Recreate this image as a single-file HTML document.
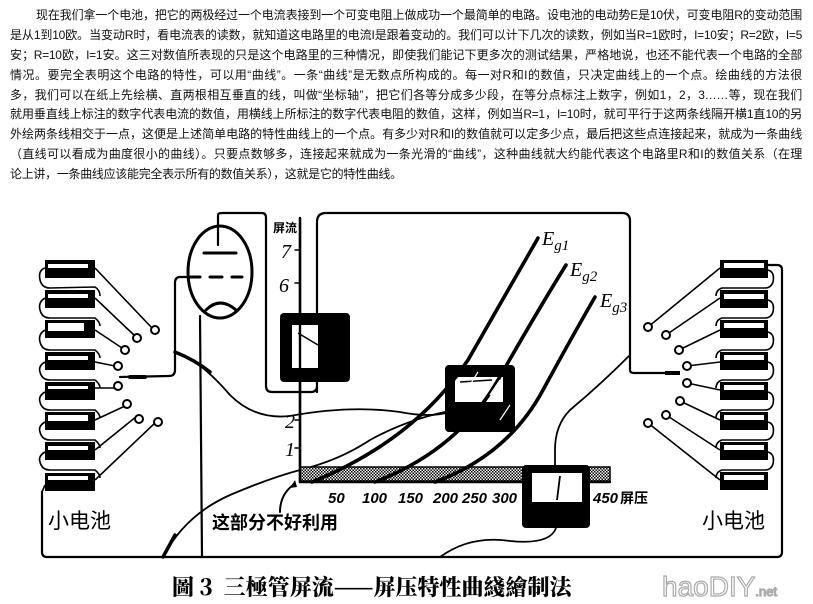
<!DOCTYPE html>
<html><head><meta charset="utf-8"><style>
html,body{margin:0;padding:0;background:#fff;}
body{width:813px;height:604px;position:relative;overflow:hidden;font-family:"Liberation Sans","Noto Sans CJK SC",sans-serif;}
.p{position:absolute;left:10px;top:6px;width:792px;font-size:12px;letter-spacing:-0.3px;line-height:19.9px;color:#111;font-family:"Liberation Sans","WenQuanYi Zen Hei","Noto Sans CJK SC",sans-serif;}
.p div{text-align:justify;text-align-last:justify;white-space:nowrap;height:19.9px;overflow:visible;}
.p div.f{padding-left:26px;}
.p div.l{text-align-last:left;}
svg{position:absolute;left:0;top:0;}
</style></head><body>
<div class="p">
<div class="f">现在我们拿一个电池，把它的两极经过一个电流表接到一个可变电阻上做成功一个最简单的电路。设电池的电动势E是10伏，可变电阻R的变动范围</div>
<div>是从1到10欧。当变动R时，看电流表的读数，就知道这电路里的电流I是跟着变动的。我们可以计下几次的读数，例如当R=1欧时，I=10安；R=2欧，I=5</div>
<div>安；R=10欧，I=1安。这三对数值所表现的只是这个电路里的三种情况，即使我们能记下更多次的测试结果，严格地说，也还不能代表一个电路的全部</div>
<div>情况。要完全表明这个电路的特性，可以用“曲线”。一条“曲线”是无数点所构成的。每一对R和I的数值，只决定曲线上的一个点。绘曲线的方法很</div>
<div>多，我们可以在纸上先绘横、直两根相互垂直的线，叫做“坐标轴”，把它们各等分成多少段，在等分点标注上数字，例如1，2，3……等，现在我们</div>
<div>就用垂直线上标注的数字代表电流的数值，用横线上所标注的数字代表电阻的数值，这样，例如当R=1，I=10时，就可平行于这两条线隔开横1直10的另</div>
<div>外绘两条线相交于一点，这便是上述简单电路的特性曲线上的一个点。有多少对R和I的数值就可以定多少点，最后把这些点连接起来，就成为一条曲线</div>
<div>（直线可以看成为曲度很小的曲线）。只要点数够多，连接起来就成为一条光滑的“曲线”，这种曲线就大约能代表这个电路里R和I的数值关系（在理</div>
<div class="l">论上讲，一条曲线应该能完全表示所有的数值关系），这就是它的特性曲线。</div>
</div>

<svg width="813" height="604" viewBox="0 0 813 604">
<defs>
<pattern id="h" width="3" height="3" patternUnits="userSpaceOnUse"><rect width="3" height="3" fill="#fff"/><rect width="1.5" height="1.5" fill="#000"/><rect x="1.5" y="1.5" width="1.5" height="1.5" fill="#000"/></pattern>
</defs>
<g fill="none" stroke="#000" stroke-width="2.2" stroke-linecap="round">
<path d="M42 492 L42 552 Q42 557 47 557 L777 557 Q782 557 782 552 L782 270 Q782 265 777 265 L766 265"/>
<path d="M317 392 L317 222 Q317 213 326 213 L622 213 Q630 213 630 221 L630 370 Q630 373 634 373 L665 373"/>
<path d="M218 245 L218 215 Q218 213 222 213 L262 213 Q266 213 266 218 L266 386 Q266 392 272 392 L311 392 Q317 392 317 386"/>
<ellipse cx="220" cy="272" rx="32" ry="46" stroke-width="3"/>
<path d="M204 253 L236 253" stroke-width="3"/>
<path d="M190 277 L200 277 M210 277 L222 277 M232 277 L242 277" stroke-width="3"/>
<path d="M206 310 Q220 296 236 310" stroke-width="3"/>
<path d="M190 277 L180 277 Q175 277 175 283 L175 370 Q175 376 169 376 L120 377"/>
<path d="M130 377 L145 377" stroke-width="4"/>
<path d="M200 316 L202 557"/>
<path d="M175 352 Q200 360 230 395 Q255 420 290 416 Q350 405 400 412 Q430 418 450 412" stroke-width="1.8"/>
<path d="M175 352 Q195 360 210 372" stroke-width="3.5"/>
<path d="M300 218 L300 482 L610 482" stroke-width="2.4"/>
<path d="M295 250 L300 250 M295 283 L300 283 M295 420 L300 420 M295 448 L300 448" stroke-width="1.5"/>
<path d="M163 557 Q185 515 230 495 Q270 478 300 470 Q340 460 370 440 Q410 418 455 410" stroke-width="1.8"/>
<path d="M163 557 L175 535" stroke-width="3.5"/>
<path d="M280 512 Q280 495 293 485" stroke-width="2"/>
</g>
<path d="M295 480 L290 488 L297 487Z" fill="#000"/>
<rect x="300" y="467" width="310" height="14" fill="url(#h)" stroke="#000" stroke-width="1.5"/>
<rect x="280" y="313" width="70" height="69" rx="4" fill="#000"/>
<rect x="292" y="325" width="26" height="43" fill="#fff"/>
<path d="M300 218 L300 482" stroke="#000" stroke-width="2.4"/>
<path d="M298 333 L318 345" stroke="#000" stroke-width="1.5"/>
<rect x="445" y="365" width="70" height="67" rx="4" fill="#000"/>
<rect x="455" y="377" width="48" height="25" fill="#fff"/>
<path d="M460 382 L492 380" stroke="#000" stroke-width="1.5"/>
<g fill="none" stroke="#000" stroke-width="3.6" stroke-linecap="round">
<path d="M312 482 Q415 440 468 360 Q508 290 538 238"/>
<path d="M375 482 Q458 450 498 380 Q538 310 566 265"/>
<path d="M435 482 Q508 455 543 390 Q573 335 595 297"/>
</g>
<g fill="none" stroke="#fff" stroke-width="1.2">
<path d="M470 385 L478 372 M490 395 L500 380 M500 420 L510 405"/>
</g>
<rect x="522" y="465" width="68" height="63" rx="4" fill="#000"/>
<rect x="532" y="473" width="50" height="29" fill="#fff"/>
<path d="M560 476 L557 500" stroke="#000" stroke-width="1.8"/>
<g fill="none" stroke="#000" stroke-width="1.8" stroke-linecap="round">
<path d="M630 355 Q600 385 570 410 Q555 425 555 450 L555 465"/>
<path d="M556 528 Q550 545 510 541 Q470 535 440 557"/>
</g>
<g fill="#000"><rect x="45" y="260" width="50" height="18"/><rect x="45" y="290" width="50" height="18"/><rect x="45" y="320" width="50" height="18"/><rect x="45" y="352" width="50" height="18"/><rect x="45" y="382" width="50" height="18"/><rect x="45" y="412" width="50" height="18"/><rect x="45" y="442" width="50" height="18"/><rect x="45" y="473" width="50" height="18"/></g>
<g fill="#fff"><rect x="48" y="264" width="40" height="4"/><rect x="48" y="294" width="40" height="4"/><rect x="48" y="323" width="36" height="8"/><rect x="48" y="356" width="40" height="4"/><rect x="48" y="386" width="40" height="3"/><rect x="48" y="415" width="40" height="6"/><rect x="48" y="446" width="40" height="4"/><rect x="48" y="476" width="40" height="4"/></g>
<g fill="none" stroke="#000" stroke-width="1.6">
<path d="M45 268 Q38 270 40 280 Q42 288 50 288 L95 287 Q100 290 100 296"/>
<path d="M45 298 Q38 302 40 310 Q42 318 50 318 L95 318 Q100 322 100 326"/>
<path d="M45 330 Q38 334 40 342 Q42 350 50 350 L95 350 Q100 354 100 358"/>
<path d="M45 362 Q38 366 40 372 Q42 380 50 380 L95 380 Q100 384 100 388"/>
<path d="M45 392 Q38 396 40 402 Q42 410 50 410 L95 410 Q100 414 100 418"/>
<path d="M45 422 Q38 426 40 432 Q42 440 50 440 L95 440 Q100 444 100 448"/>
<path d="M45 452 Q38 456 40 462 Q42 470 50 470 L95 470 Q100 474 100 478"/>
<path d="M45 485 L42 492"/>
<path d="M95 268 L152 328 M95 298 L135 336 M95 330 L122 348 M95 362 L115 366 M95 388 L116 388 M95 420 L125 406 M95 450 L137 416 M95 480 L156 422"/>
</g>
<g fill="#fff" stroke="#000" stroke-width="2"><circle cx="155" cy="330" r="4"/><circle cx="137" cy="338" r="4"/><circle cx="125" cy="350" r="4"/><circle cx="118" cy="366" r="4"/><circle cx="118" cy="386" r="4"/><circle cx="127" cy="404" r="4"/><circle cx="139" cy="419" r="4"/><circle cx="158" cy="422" r="4"/></g>
<g fill="#000"><rect x="720" y="260" width="48" height="18"/><rect x="720" y="290" width="48" height="18"/><rect x="720" y="320" width="48" height="18"/><rect x="720" y="352" width="48" height="18"/><rect x="720" y="382" width="48" height="18"/><rect x="720" y="412" width="48" height="18"/><rect x="720" y="442" width="48" height="18"/><rect x="720" y="472" width="48" height="18"/></g>
<g fill="#fff"><rect x="724" y="263" width="40" height="5"/><rect x="724" y="294" width="40" height="5"/><rect x="724" y="323" width="40" height="5"/><rect x="724" y="355" width="40" height="5"/><rect x="724" y="385" width="40" height="5"/><rect x="724" y="415" width="40" height="5"/><rect x="724" y="445" width="40" height="5"/><rect x="724" y="475" width="40" height="5"/></g>
<g fill="none" stroke="#000" stroke-width="1.6">
<path d="M768 270 Q775 272 773 282 Q771 288 765 288 L722 288 Q716 290 716 296"/>
<path d="M768 300 Q775 302 773 312 Q771 318 765 318 L722 318 Q716 320 716 326"/>
<path d="M768 332 Q775 334 773 344 Q771 350 765 350 L722 350 Q716 352 716 358"/>
<path d="M768 362 Q775 364 773 374 Q771 380 765 380 L722 380 Q716 382 716 388"/>
<path d="M768 392 Q775 394 773 404 Q771 410 765 410 L722 410 Q716 412 716 418"/>
<path d="M768 422 Q775 424 773 434 Q771 440 765 440 L722 440 Q716 442 716 448"/>
<path d="M768 452 Q775 454 773 464 Q771 470 765 470 L722 470 Q716 472 716 478"/>
<path d="M720 268 L648 327 M720 298 L666 335 M720 330 L679 350 M720 362 L687 366 M720 390 L687 383 M720 420 L680 401 M720 450 L666 415 M720 480 L648 423"/>
</g>
<path d="M665 373 L680 373" stroke="#000" stroke-width="4"/>
<g fill="#fff" stroke="#000" stroke-width="2"><circle cx="648" cy="327" r="4"/><circle cx="666" cy="335" r="4"/><circle cx="679" cy="350" r="4"/><circle cx="687" cy="366" r="4"/><circle cx="687" cy="383" r="4"/><circle cx="680" cy="401" r="4"/><circle cx="666" cy="415" r="4"/><circle cx="648" cy="423" r="4"/></g>
<g font-family="Liberation Serif, serif" font-style="italic" font-size="20" fill="#000">
<text x="281" y="258">7</text><text x="279" y="292">6</text><text x="285" y="428">2</text><text x="285" y="456">1</text>
<text x="542" y="245">E<tspan font-size="15" dy="5">g1</tspan></text>
<text x="570" y="276">E<tspan font-size="15" dy="5">g2</tspan></text>
<text x="600" y="307">E<tspan font-size="15" dy="5">g3</tspan></text>
</g>
<g font-family="Liberation Sans, sans-serif" font-style="italic" font-weight="bold" font-size="15" fill="#000">
<text x="328" y="503">50</text><text x="362" y="503">100</text><text x="398" y="503">150</text><text x="433" y="503">200</text><text x="462" y="503">250</text><text x="492" y="503">300</text><text x="593" y="503">450</text>
</g>
<text x="620" y="503" font-family="Noto Sans CJK SC, sans-serif" font-weight="bold" font-size="14">屏压</text>
<text x="273" y="232" font-family="Noto Sans CJK SC, sans-serif" font-weight="bold" font-size="12">屏流</text>
<text x="48" y="528" font-family="Noto Sans CJK SC, sans-serif" font-size="21">小电池</text>
<text x="702" y="528" font-family="Noto Sans CJK SC, sans-serif" font-size="21">小电池</text>
<text x="212" y="529" font-family="Noto Sans CJK SC, sans-serif" font-weight="bold" font-size="18">这部分不好利用</text>
<text x="172" y="595" font-family="Noto Serif CJK SC, serif" font-weight="900" font-size="22">圖 3 &#160;三極管屏流——屏压特性曲綫繪制法</text>
<text x="662" y="596" font-family="Liberation Sans, sans-serif" font-size="28" fill="#fff" stroke="#aaa" stroke-width="1.2">haoDIY<tspan font-size="13">.net</tspan></text>
</svg>
</body></html>
